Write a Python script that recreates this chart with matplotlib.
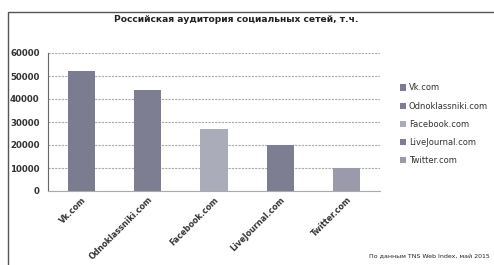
import matplotlib.pyplot as plt
from matplotlib.patches import Rectangle, Patch

sites = ['Vk.com', 'Odnoklassniki.com', 'Facebook.com', 'LiveJournal.com', 'Twitter.com']
audience = [52300, 44000, 27000, 20000, 10000]
colors = ['#7c7c90', '#7e7e92', '#aaacba', '#7e7e92', '#9a9aab']
yticks = [0, 10000, 20000, 30000, 40000, 50000, 60000]

fig = plt.figure(figsize=(4.94, 2.65), dpi=100)
fig.patch.set_facecolor('white')

# frame of the pasted chart
fig.patches.append(Rectangle((8 / 494, -0.02), 1.0, 1 - 12 / 265 + 0.02,
                             transform=fig.transFigure, fill=False,
                             edgecolor='#555555', linewidth=1.0))

ax = fig.add_axes([48 / 494, 1 - 191 / 265, (380 - 48) / 494, (191 - 53) / 265])
x = list(range(len(sites)))
ax.bar(x, audience, width=0.41, color=colors, zorder=3)
ax.set_xlim(-0.5, len(sites) - 0.5)
ax.set_ylim(0, 60000)
ax.set_yticks(yticks)
ax.set_yticklabels([str(t) for t in yticks], fontsize=6.2, fontweight='bold', color='#333333')
ax.set_xticks(x)
ax.set_xticklabels(sites, rotation=45, ha='right', rotation_mode='anchor',
                   fontsize=5.8, fontweight='bold', color='#333333')
ax.tick_params(axis='y', length=0, pad=6)
ax.tick_params(axis='x', length=0, pad=3)
ax.grid(axis='y', color='#aaaaaa', linestyle=(0, (2, 1)), linewidth=0.8, zorder=0)
for s in ['top', 'right']:
    ax.spines[s].set_visible(False)
ax.spines['left'].set_color('#666666')
ax.spines['bottom'].set_color('#aaaaaa')
ax.spines['bottom'].set_linestyle((0, (2, 1)))

fig.text(0.478, 1 - 20 / 265, 'Российская аудитория социальных сетей, т.ч.',
         ha='center', va='center', fontsize=6.6, fontweight='bold', color='#222222')

handles = [Patch(facecolor=c) for c in colors]
fig.legend(handles, sites, loc='upper left', bbox_to_anchor=(392 / 494, 1 - 76 / 265),
           frameon=False, fontsize=6, handlelength=0.8, handleheight=0.8,
           handletextpad=0.3, labelspacing=1.1, labelcolor='#333333')

fig.text(490 / 494, 1 - 256 / 265, 'По данным TNS Web Index, май 2015',
         ha='right', va='center', fontsize=4.5, color='#222222')

fig.savefig('out.png', dpi=100)
